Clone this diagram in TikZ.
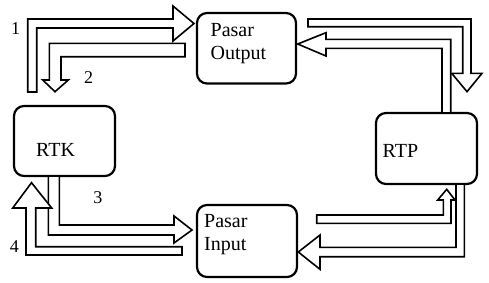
\documentclass[tikz,border=0pt]{standalone}
\usepackage{fontspec}
\setmainfont{Liberation Serif}
\begin{document}
\begin{tikzpicture}[x=1pt,y=-1pt,
  box/.style={draw, line width=2.2pt, rounded corners=10pt, inner sep=0pt},
  blockarrow/.style={draw, line width=1.6pt, fill=white, line join=miter},
  txt/.style={inner sep=0pt, anchor=base west, font=\fontsize{20}{23}\selectfont},
  num/.style={inner sep=0pt, anchor=base, font=\fontsize{18}{22}\selectfont}]
\useasboundingbox (0,0) rectangle (489,282);
% boxes
\node[box, minimum width=99pt, minimum height=70.5pt] (po) at (246.5,48.25) {};
\node[box, minimum width=101pt, minimum height=70pt] (rtk) at (64.5,141) {};
\node[box, minimum width=101pt, minimum height=71pt] (rtp) at (426.5,148.5) {};
\node[box, minimum width=100pt, minimum height=72pt] (pi) at (247,241) {};
% texts
\node[txt] (po1) at (210.5,36) {Pasar};
\node[txt] (po2) at (210.5,59) {Output};
\node[txt] (rtkt) at (36,156) {RTK};
\node[txt] (rtpt) at (382.5,157.3) {RTP};
\node[txt] (pi1) at (204,227) {Pasar};
\node[txt] (pi2) at (204,250) {Input};
% numbers
\node[num] (n1) at (15.5,34.3) {1};
\node[num] (n2) at (88.7,83.3) {2};
\node[num] (n3) at (97.8,203.3) {3};
\node[num] (n4) at (14.3,252.7) {4};
% arrow 1: RTK -> Pasar Output
\draw[blockarrow] (27.7,92) -- (27.7,19) -- (173,19) -- (173,6) -- (194,23.5)
  -- (173,41) -- (173,28) -- (36.7,28) -- (36.7,92) -- cycle;
% arrow 2: Pasar Output -> RTK
\draw[blockarrow] (185,43.3) -- (49.3,43.3) -- (49.3,80) -- (42.7,80) -- (55,91.7)
  -- (68.3,80) -- (61,80) -- (61,56.7) -- (185,56.7) -- cycle;
% arrow 5: Pasar Output -> RTP
\draw[blockarrow] (308,19) -- (471,19) -- (471,73.3) -- (482,73.3) -- (467,91.7)
  -- (451.7,73.3) -- (462.7,73.3) -- (462.7,26.7) -- (308,26.7) -- cycle;
% arrow 6: RTP -> Pasar Output
\draw[blockarrow] (450.7,113) -- (450.7,39.3) -- (326,39.3) -- (326,32.7) -- (297.7,44)
  -- (326,56) -- (326,48.3) -- (442,48.3) -- (442,113) -- cycle;
% arrow 3: RTK -> Pasar Input
\draw[blockarrow] (48.3,176) -- (48.3,235) -- (174,235) -- (174,243) -- (192,230)
  -- (174,216) -- (174,225) -- (59.3,225) -- (59.3,176) -- cycle;
% arrow 4: Pasar Input -> RTK
\draw[blockarrow] (182,246.7) -- (35.7,246.7) -- (35.7,208) -- (51.7,208) -- (31.5,182.7)
  -- (12.7,208) -- (26,208) -- (26,255) -- (182,255) -- cycle;
% arrow 7: Pasar Input -> RTP
\draw[blockarrow] (316.7,215) -- (443.3,215) -- (443.3,200) -- (437.7,200) -- (446.7,189.3)
  -- (455,200) -- (451,200) -- (451,223.3) -- (316.7,223.3) -- cycle;
% arrow 8: RTP -> Pasar Input
\draw[blockarrow] (464.3,184) -- (464.3,256.7) -- (320,256.7) -- (320,269.3) -- (298.3,252)
  -- (320,235) -- (320,247.3) -- (456,247.3) -- (456,184) -- cycle;
\end{tikzpicture}
\end{document}
